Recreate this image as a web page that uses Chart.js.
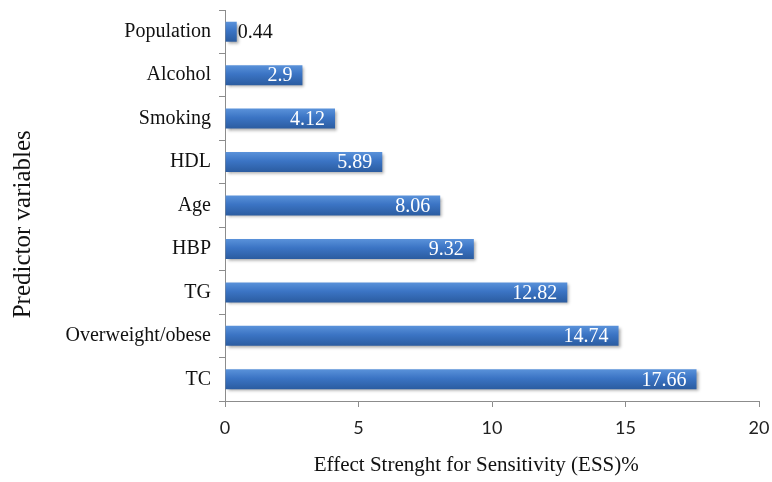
<!DOCTYPE html>
<html>
<head>
<meta charset="utf-8">
<script src="https://cdn.jsdelivr.net/npm/chart.js@4/dist/chart.umd.min.js"></script>
<style>
  body { margin: 0; background: #fff; }
  #wrap { width: 772px; height: 482px; }
</style>
</head>
<body>
<div id="wrap"><canvas id="chart" width="772" height="482"></canvas></div>
<script>
// Donnees (de haut en bas)
const categories = ['Population', 'Alcohol', 'Smoking', 'HDL', 'Age', 'HBP', 'TG', 'Overweight/obese', 'TC'];
const essValues = [0.44, 2.9, 4.12, 5.89, 8.06, 9.32, 12.82, 14.74, 17.66];
const xTicks = [0, 5, 10, 15, 20];

// Degrade vertical pour chaque barre
function barGradient(context) {
    const chart = context.chart;
    const yScale = chart.scales.y;
    if (!yScale || context.dataIndex === undefined) return '#3a70c0';
    const yc = yScale.getPixelForValue(context.dataIndex);
    if (!isFinite(yc)) return '#3a70c0';
    const g = chart.ctx.createLinearGradient(0, yc - 10, 0, yc + 10);
    g.addColorStop(0, '#5a92da');
    g.addColorStop(0.45, '#3b74c4');
    g.addColorStop(1, '#2b5ca0');
    return g;
}

// Ombre sous les barres
const shadowPlugin = {
    id: 'shadow',
    beforeDatasetDraw(chart) {
        const ctx = chart.ctx;
        ctx.save();
        ctx.shadowColor = 'rgba(0,0,0,0.35)';
        ctx.shadowBlur = 3;
        ctx.shadowOffsetX = 2;
        ctx.shadowOffsetY = 2;
    },
    afterDatasetDraw(chart) {
        chart.ctx.restore();
    }
};

// Etiquettes des valeurs
const valueLabels = {
    id: 'valueLabels',
    afterDatasetsDraw(chart) {
        const ctx = chart.ctx;
        const meta = chart.getDatasetMeta(0);
        ctx.save();
        ctx.font = '20px "Liberation Serif", serif';
        ctx.textBaseline = 'middle';
        meta.data.forEach((bar, i) => {
            const v = essValues[i];
            const txt = String(v);
            if (v < 1) {
                ctx.fillStyle = '#111';
                ctx.textAlign = 'left';
                ctx.fillText(txt, bar.x + 1, bar.y + 1);
            } else {
                ctx.fillStyle = '#fff';
                ctx.textAlign = 'right';
                ctx.fillText(txt, bar.x - 10, bar.y + 1);
            }
        });
        ctx.restore();
    }
};

new Chart(document.getElementById('chart'), {
    type: 'bar',
    data: {
        labels: categories,
        datasets: [{
            data: essValues,
            backgroundColor: barGradient,
            borderWidth: 0,
            barPercentage: 0.46,
            categoryPercentage: 1
        }]
    },
    plugins: [shadowPlugin, valueLabels],
    options: {
        indexAxis: 'y',
        responsive: false,
        animation: false,
        layout: { padding: { top: 10, right: 13, left: 0, bottom: 0 } },
        plugins: {
            legend: { display: false },
            tooltip: { enabled: false }
        },
        scales: {
            x: {
                min: 0,
                max: 20,
                afterBuildTicks: s => { s.ticks = xTicks.map(v => ({ value: v })); },
                afterFit: s => { s.height = 81; s.paddingLeft = 0; s.paddingRight = 0; },
                grid: { drawOnChartArea: false, tickLength: 6, color: '#8c8c8c' },
                border: { color: '#8c8c8c' },
                ticks: {
                    padding: 10,
                    color: '#222',
                    font: { family: 'Lato, "Liberation Sans", sans-serif', size: 18 }
                },
                title: {
                    display: true,
                    text: 'Effect Strenght for Sensitivity (ESS)%\u00a0\u00a0\u00a0\u00a0\u00a0\u00a0',
                    color: '#111',
                    font: { family: '"Liberation Serif", serif', size: 21 },
                    padding: { top: 4, bottom: 4 }
                }
            },
            y: {
                afterFit: s => { s.width = 225; s.paddingTop = 0; s.paddingBottom = 0; },
                grid: { drawOnChartArea: false, offset: true, tickLength: 6, color: '#8c8c8c' },
                border: { color: '#8c8c8c' },
                ticks: {
                    padding: 8,
                    color: '#111',
                    font: { family: '"Liberation Serif", serif', size: 20 }
                },
                title: {
                    display: true,
                    text: 'Predictor variables\u00a0\u00a0\u00a0\u00a0\u00a0\u00a0',
                    color: '#111',
                    font: { family: '"Liberation Serif", serif', size: 25 },
                    padding: { top: 8, bottom: 0 }
                }
            }
        }
    }
});
</script>
</body>
</html>
